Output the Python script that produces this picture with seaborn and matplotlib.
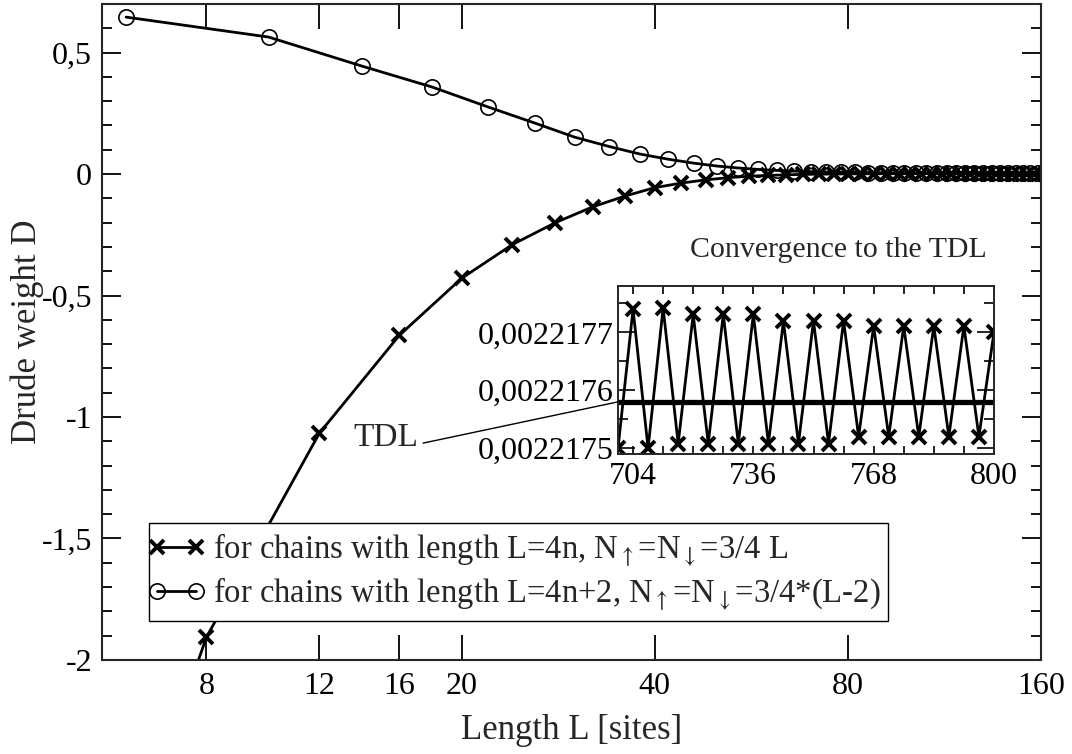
import pandas as pd
import seaborn as sns
import matplotlib.pyplot as plt
from matplotlib.legend_handler import HandlerLine2D
from matplotlib.ticker import MultipleLocator, FixedLocator, FuncFormatter, NullLocator

# ---- data ----
# chains with L = 4n  (crosses); the L=4 point lies below the axis and is clipped
L_4n = [4, 8, 12, 16, 20, 24, 28, 32, 36, 40, 44, 48, 52, 56, 60, 64, 68, 72, 76, 80,
        84, 88, 92, 96, 100, 104, 108, 112, 116, 120, 124, 128, 132, 136, 140, 144,
        148, 152, 156, 160]
D_4n = [-4.2, -1.907, -1.067, -0.663, -0.429, -0.29, -0.20, -0.135, -0.09, -0.056,
        -0.037, -0.024, -0.015, -0.009, -0.0055, -0.003, -0.0015, -0.0005, 0.0002, 0.0007,
        0.001, 0.0013, 0.0015, 0.0016, 0.0017, 0.0018, 0.0019, 0.0019, 0.002, 0.002,
        0.002, 0.0021, 0.0021, 0.0021, 0.0021, 0.0021, 0.0021, 0.0022, 0.0022, 0.0022]

# chains with L = 4n+2  (circles)
L_4n2 = [6, 10, 14, 18, 22, 26, 30, 34, 38, 42, 46, 50, 54, 58, 62, 66, 70, 74, 78, 82,
         86, 90, 94, 98, 102, 106, 110, 114, 118, 122, 126, 130, 134, 138, 142, 146,
         150, 154, 158]
D_4n2 = [0.646, 0.564, 0.444, 0.358, 0.276, 0.21, 0.152, 0.113, 0.082, 0.061,
         0.045, 0.033, 0.025, 0.019, 0.015, 0.012, 0.010, 0.0085, 0.0074, 0.0066,
         0.006, 0.0054, 0.005, 0.0046, 0.0043, 0.004, 0.0038, 0.0036, 0.0034, 0.0033,
         0.0032, 0.0031, 0.003, 0.0029, 0.0028, 0.0028, 0.0027, 0.0027, 0.0026]

# inset: large chains
L_inset = [700, 704, 708, 712, 716, 720, 724, 728, 732, 736, 740, 744, 748, 752, 756,
           760, 764, 768, 772, 776, 780, 784, 788, 792, 796, 800]
D_inset = [0.00221750, 0.00221774, 0.00221750, 0.002217742, 0.002217508, 0.002217731,
           0.002217508, 0.002217731, 0.002217508, 0.002217731, 0.002217508, 0.002217719,
           0.002217508, 0.00221772, 0.002217508, 0.00221772, 0.00221752, 0.002217711,
           0.00221752, 0.002217711, 0.00221752, 0.002217711, 0.00221752, 0.002217711,
           0.00221752, 0.0022177]
D_tdl = 0.00221758

x_ticks = [8, 12, 16, 20, 40, 80, 160]
inset_x_ticks = [704, 736, 768, 800]
inset_y_ticks = [0.0022175, 0.0022176, 0.0022177]
inset_y_minor = [0.00221755, 0.00221765, 0.00221775]

label_4n = "for chains with length L=4n, N$_{\\uparrow}$=N$_{\\downarrow}$=3/4 L"
label_4n2 = "for chains with length L=4n+2, N$_{\\uparrow}$=N$_{\\downarrow}$=3/4*(L-2)"

# ---- style ----
sns.set_style("ticks")
plt.rcParams["font.family"] = ["Liberation Serif", "DejaVu Serif"]
plt.rcParams["mathtext.fontset"] = "stix"
plt.rcParams["axes.unicode_minus"] = False
plt.rcParams["axes.linewidth"] = 1.5

TICK_FS = 23
LABEL_FS = 25

fig = plt.figure(figsize=(10.72, 7.54), dpi=100)
ax = fig.add_axes([0.0951, 0.1247, 0.876, 0.870])

df_a = pd.DataFrame({"L": L_4n, "D": D_4n})
df_b = pd.DataFrame({"L": L_4n2, "D": D_4n2})

sns.lineplot(data=df_a, x="L", y="D", ax=ax, color="black", lw=2, marker="x",
             markersize=10, markeredgewidth=2.8, markeredgecolor="black",
             estimator=None, sort=False, label=label_4n)
sns.lineplot(data=df_b, x="L", y="D", ax=ax, color="black", lw=2, marker="o",
             markersize=11, markerfacecolor="none", markeredgecolor="black",
             markeredgewidth=1.2, estimator=None, sort=False, label=label_4n2)

ax.set_xscale("log")
ax.set_xlim(5.5, 160)
ax.set_ylim(-2, 0.7)
ax.xaxis.set_major_locator(FixedLocator(x_ticks))
ax.xaxis.set_minor_locator(NullLocator())
ax.xaxis.set_major_formatter(FuncFormatter(lambda v, _: f"{v:g}"))
ax.yaxis.set_major_locator(MultipleLocator(0.5))
ax.yaxis.set_minor_locator(MultipleLocator(0.1))
ax.yaxis.set_major_formatter(FuncFormatter(lambda v, _: f"{v:g}".replace(".", ",")))

ax.tick_params(axis="both", which="both", direction="in", top=True, right=True,
               labelsize=TICK_FS, width=1.3, colors="black")
ax.tick_params(axis="x", which="major", length=18, pad=9)
ax.tick_params(axis="y", which="major", length=14, pad=7)
ax.tick_params(axis="y", which="minor", length=7)

ax.set_xlabel("Length L [sites]", fontsize=LABEL_FS)
ax.set_ylabel("Drude weight D", fontsize=LABEL_FS)
ax.xaxis.set_label_coords(0.5, -0.083)
ax.yaxis.set_label_coords(-0.062, 0.5)

leg = ax.legend(loc="lower left", bbox_to_anchor=(0.05, 0.0595), numpoints=2,
                handler_map={plt.Line2D: HandlerLine2D(numpoints=2, marker_pad=0)},
                frameon=True, fancybox=False, edgecolor="black", framealpha=1,
                fontsize=23.5, handlelength=1.2, handletextpad=0.5,
                borderaxespad=0, borderpad=0.25, labelspacing=0.2)
leg.get_frame().set_linewidth(1.0)

# ---- inset ----
ax_in = fig.add_axes([0.5765, 0.3979, 0.3507, 0.2228])
df_in = pd.DataFrame({"L": L_inset, "D": D_inset})
sns.lineplot(data=df_in, x="L", y="D", ax=ax_in, color="black", lw=2, marker="x",
             markersize=9.5, markeredgewidth=2.8, markeredgecolor="black",
             estimator=None, sort=False)
ax_in.axhline(D_tdl, color="black", lw=3.8)

ax_in.set_xlim(700, 800)
ax_in.set_ylim(0.00221749, 0.00221778)
ax_in.xaxis.set_major_locator(FixedLocator(inset_x_ticks))
ax_in.xaxis.set_minor_locator(MultipleLocator(8))
ax_in.yaxis.set_major_locator(FixedLocator(inset_y_ticks))
ax_in.yaxis.set_minor_locator(FixedLocator(inset_y_minor))
ax_in.xaxis.set_major_formatter(FuncFormatter(lambda v, _: f"{v:g}"))
ax_in.yaxis.set_major_formatter(FuncFormatter(lambda v, _: f"{v:.7f}".replace(".", ",")))
ax_in.tick_params(axis="both", which="both", direction="in", top=True, right=True,
                  labelsize=TICK_FS, width=1.2, colors="black")
ax_in.tick_params(axis="x", which="both", length=6, pad=6)
ax_in.tick_params(axis="y", which="major", length=12, pad=3)
ax_in.tick_params(axis="y", which="minor", length=7)
ax_in.set_xlabel("")
ax_in.set_ylabel("")
for s in ax_in.spines.values():
    s.set_linewidth(1.4)
ax_in.text(0.585, 1.215, "Convergence to the TDL", transform=ax_in.transAxes,
           ha="center", va="center", fontsize=21.5)

ax_in.annotate("TDL", xy=(700, D_tdl), xycoords="data",
               xytext=(386, 754 - 438), textcoords="figure pixels",
               ha="center", va="center", fontsize=24,
               arrowprops=dict(arrowstyle="-", color="black", lw=1,
                               relpos=(1.0, 0.3), shrinkA=1, shrinkB=0),
               annotation_clip=False)

fig.savefig("out.png", dpi=100)
